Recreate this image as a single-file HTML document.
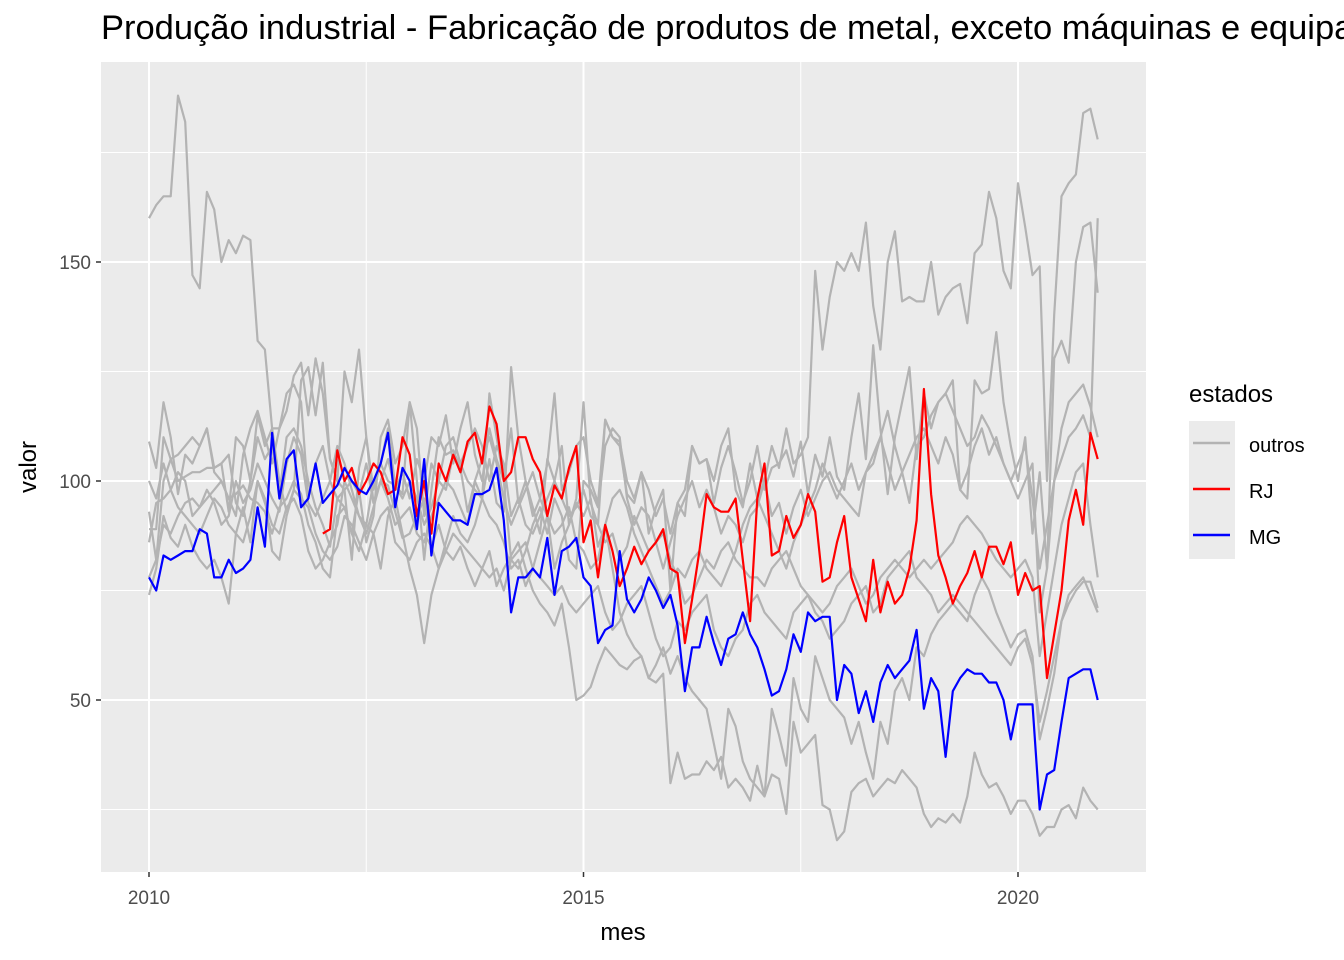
<!DOCTYPE html>
<html><head><meta charset="utf-8"><style>
html,body{margin:0;padding:0;background:#fff;width:1344px;height:960px;overflow:hidden}
svg{display:block;font-family:"Liberation Sans",Arial,sans-serif}
</style></head><body>
<svg id="chart" width="1344" height="960" viewBox="0 0 1344 960">
<rect x="101" y="62" width="1045" height="810" fill="#ebebeb"/>
<text x="101" y="39" font-size="34.5" fill="#000">Produção industrial - Fabricação de produtos de metal, exceto máquinas e equipamentos</text>
<g id="grid"></g>
<g id="series"></g>
<g id="axes"></g>
<text x="623" y="940" font-size="24" text-anchor="middle" fill="#000">mes</text>
<text transform="translate(36,467) rotate(-90)" font-size="24" text-anchor="middle" fill="#000">valor</text>
<g>
<text x="1189" y="402" font-size="24" fill="#000">estados</text>
<rect x="1189" y="421" width="46" height="138" fill="#ebebeb"/>
<line x1="1193" x2="1230" y1="443" y2="443" stroke="#b3b3b3" stroke-width="2.5"/>
<line x1="1193" x2="1230" y1="489" y2="489" stroke="#ff0000" stroke-width="2.5"/>
<line x1="1193" x2="1230" y1="535" y2="535" stroke="#0000ff" stroke-width="2.5"/>
<text x="1249" y="452" font-size="20" fill="#000">outros</text>
<text x="1249" y="498" font-size="20" fill="#000">RJ</text>
<text x="1249" y="544" font-size="20" fill="#000">MG</text>
</g>
</svg>
<script>
const xTicks = [2010, 2015, 2020];
const yTicks = [50, 100, 150];
const yMinor = [25, 75, 125, 175];
const startYear = 2010;
const mg = [78,75,83,82,83,84,84,89,88,78,78,82, 79,80,82,94,85,111,96,105,107,94,96,104, 95,97,99,103,100,98,97,100,104,111,94,103, 100,89,105,83,95,93,91,91,90,97,97,98, 103,91,70,78,78,80,78,87,74,84,85,87, 78,76,63,66,67,84,73,70,73,78,75,71, 74,67,52,62,62,69,63,58,64,65,70,65, 62,57,51,52,57,65,61,70,68,69,69,50, 58,56,47,52,45,54,58,55,57,59,66,48, 55,52,37,52,55,57,56,56,54,54,50,41, 49,49,49,25,33,34,45,55,56,57,57,50];
const rjStart = 24;
const rj = [88,89,107,100,103,97,100,104,102,97,98,110, 106,92,100,88,104,100,106,102,109,111,104,117, 113,100,102,110,110,105,102,92,99,96,103,108, 86,91,78,90,84,76,80,85,81,84,86,89, 80,79,63,73,84,97,94,93,93,96,82,68, 96,104,83,84,92,87,90,97,93,77,78,86, 92,78,73,68,82,70,77,72,74,80,91,121, 97,83,78,72,76,79,84,78,85,85,81,86, 74,79,75,76,55,65,75,91,98,90,111,105];
const g1 = [160,163,165,165,188,182,147,144,166,162,150,155, 152,156,155,132,130,112,112,116,124,127,115,128, 120,105,100,125,118,130,110,95,100,105,98,102, 96,105,100,110,108,115,104,112,118,106,100,112, 105,100,112,95,100,92,96,104,120,98,102,108, 110,100,95,114,110,108,97,95,102,98,92,96, 88,95,98,108,104,105,100,108,112,98,94,104, 96,100,108,103,112,104,106,110,148,130,142,150, 148,152,148,159,140,130,150,157,141,142,141,141, 150,138,142,144,145,136,152,154,166,160,148,144, 168,158,147,149,100,138,165,168,170,184,185,178];
const g2 = [109,103,118,110,97,106,104,108,112,103,104,93, 110,108,100,115,108,112,100,93,98,123,126,115, 127,105,100,98,82,103,110,98,104,100,99,97, 118,100,82,98,110,106,107,103,93,100,96,105, 95,93,126,110,100,94,88,105,100,108,90,96, 118,95,90,114,110,109,100,96,102,88,94,98, 75,95,92,108,104,105,95,103,108,102,95,100, 108,98,103,104,107,101,109,97,106,101,110,101, 98,110,120,105,131,112,97,110,118,126,105,120, 112,118,120,123,98,96,123,120,121,134,118,108, 100,110,88,102,80,128,132,127,150,158,159,143];
const g3 = [74,80,92,87,85,90,85,82,80,82,78,72, 88,94,86,100,96,84,82,92,98,96,94,88, 84,82,85,92,90,86,82,88,80,92,96,88, 80,74,63,74,80,84,82,85,80,76,80,84, 76,80,83,86,80,75,72,70,67,72,62,50, 51,53,58,62,60,58,57,59,60,55,54,56, 31,38,32,33,33,36,34,37,30,32,30,27, 35,28,33,32,24,45,38,40,42,26,25,18, 20,29,31,32,28,30,32,31,34,32,30,24, 21,23,22,24,22,28,38,33,30,31,28,24, 27,27,24,19,21,21,25,26,23,30,27,25];
const g4 = [89,89,110,105,100,101,102,102,103,103,104,106, 95,92,100,110,105,108,97,110,112,108,100,94, 90,85,96,98,100,97,104,95,100,99,93,87, 88,92,96,85,80,86,92,88,86,90,96,92, 90,86,80,82,76,80,86,92,80,86,90,95, 92,96,85,90,80,70,65,62,60,55,58,62, 56,60,55,52,50,48,40,32,48,44,36,32, 30,28,48,42,35,55,48,45,60,55,50,48, 46,40,45,38,32,45,40,52,55,50,62,60, 65,68,70,72,70,68,74,78,75,70,66,62, 65,66,60,41,48,56,68,72,75,77,77,71];
const g5 = [78,82,90,88,92,95,96,94,98,95,90,92, 100,95,98,104,100,96,93,104,110,106,95,92, 96,100,108,104,98,92,90,100,104,112,99,96, 100,96,90,94,100,98,106,104,108,112,108,100, 108,104,92,96,90,88,92,96,100,96,92,94, 98,92,90,86,88,82,85,92,88,84,86,88, 82,78,72,74,78,82,80,84,86,82,80,78, 78,76,80,82,84,80,76,74,72,70,72,76, 78,80,76,72,74,78,80,82,80,78,80,82, 80,82,84,86,90,92,90,88,85,82,80,78, 80,82,78,60,70,80,90,96,102,104,90,78];
const g6 = [93,82,100,105,106,108,110,108,112,102,100,96, 92,106,112,116,110,104,112,120,122,118,96,104, 108,100,96,94,88,98,86,92,110,114,104,108, 118,112,92,104,100,108,110,104,100,98,96,120, 110,100,82,80,84,90,94,88,96,92,82,80, 100,98,94,108,112,110,96,90,94,92,86,80, 86,92,96,100,94,98,94,88,92,90,86,92, 94,100,92,95,88,94,98,92,96,100,102,98, 96,94,92,102,104,110,116,108,102,95,108,110, 115,118,120,116,112,108,110,115,112,108,104,100, 96,100,104,70,80,100,112,118,120,122,117,110];
const g7 = [86,95,96,98,102,100,92,94,96,98,100,96, 97,99,96,95,93,88,94,96,100,97,90,86, 80,78,92,94,88,84,90,88,92,94,86,84, 82,86,88,85,90,84,88,86,84,82,80,78, 80,75,82,84,86,80,78,76,74,76,72,70, 72,74,76,70,66,68,72,74,76,70,64,60, 62,68,66,70,72,74,66,62,60,64,66,72, 74,70,68,66,64,70,72,74,70,68,64,66, 68,72,74,76,70,72,78,80,82,84,78,76, 74,70,72,74,72,70,68,66,64,62,60,58, 62,64,58,45,52,60,68,74,76,78,74,70];
const g8 = [100,96,104,98,94,92,90,88,92,96,94,90, 88,86,92,100,95,90,88,94,96,92,84,80, 82,86,90,100,96,92,88,94,100,96,90,92, 94,88,86,92,96,100,98,94,90,100,105,110, 104,96,90,94,98,102,96,92,88,90,94,86, 84,80,82,90,96,98,94,88,84,80,76,72, 75,80,78,82,84,80,78,76,80,84,90,94, 96,92,88,84,80,86,90,94,98,104,100,96, 100,104,98,102,106,110,104,98,102,106,110,112, 108,104,110,106,98,102,108,112,106,110,104,100, 104,108,96,80,90,100,105,110,112,115,110,160];

const NS = "http://www.w3.org/2000/svg";
const X0 = 149, PXY = 86.9;
const xScale = t => X0 + (t - startYear) * PXY;
const xMonth = i => xScale(startYear + i / 12);
const yScale = v => 481 - (v - 100) * 4.38;
const L = 101, R = 1146, T = 62, B = 872;

const grid = document.getElementById('grid');
function ln(parent, x1, y1, x2, y2, stroke, w) {
  const e = document.createElementNS(NS, 'line');
  e.setAttribute('x1', x1); e.setAttribute('y1', y1);
  e.setAttribute('x2', x2); e.setAttribute('y2', y2);
  e.setAttribute('stroke', stroke); e.setAttribute('stroke-width', w);
  parent.appendChild(e); return e;
}
yMinor.forEach(v => {
  const e = ln(grid, L, yScale(v), R, yScale(v), '#fff', 1);
  
  
});
[2012.5, 2017.5].forEach(t => {
  const e = ln(grid, xScale(t), T, xScale(t), B, '#fff', 1);
  
  
});
yTicks.forEach(v => {
  const e = ln(grid, L, yScale(v), R, yScale(v), '#fff', 2);
  
  
});
xTicks.forEach(t => {
  const e = ln(grid, xScale(t), T, xScale(t), B, '#fff', 2);
  
  
});

const axes = document.getElementById('axes');
yTicks.forEach(v => {
  const tk = ln(axes, 96, yScale(v), 101, yScale(v), '#333', 1.5);
  
  
  const t = document.createElementNS(NS, 'text');
  t.setAttribute('x', 91); t.setAttribute('y', yScale(v) + 7);
  t.setAttribute('text-anchor', 'end'); t.setAttribute('font-size', '19'); t.setAttribute('fill', '#4d4d4d');
  t.textContent = v;
  
  
  axes.appendChild(t);
});
xTicks.forEach(v => {
  const tk = ln(axes, xScale(v), 872, xScale(v), 877, '#333', 1.5);
  
  
  const t = document.createElementNS(NS, 'text');
  t.setAttribute('x', xScale(v)); t.setAttribute('y', 904);
  t.setAttribute('text-anchor', 'middle'); t.setAttribute('font-size', '19'); t.setAttribute('fill', '#4d4d4d');
  t.textContent = v;
  
  
  axes.appendChild(t);
});

const series = document.getElementById('series');
function path(vals, start, color, name) {
  const p = document.createElementNS(NS, 'polyline');
  p.setAttribute('points', vals.map((v, i) => xMonth(start + i).toFixed(1) + ',' + yScale(v).toFixed(1)).join(' '));
  p.setAttribute('fill', 'none'); p.setAttribute('stroke', color);
  p.setAttribute('stroke-width', '2.2'); p.setAttribute('stroke-linejoin', 'round');
  
  
  series.appendChild(p);
}
[g1, g2, g3, g4, g5, g6, g7, g8].forEach((g, k) => path(g, 0, '#b3b3b3', 'line-outros-' + (k + 1)));
path(rj, rjStart, '#ff0000', 'line-rj');
path(mg, 0, '#0000ff', 'line-mg');
</script>
</body></html>
